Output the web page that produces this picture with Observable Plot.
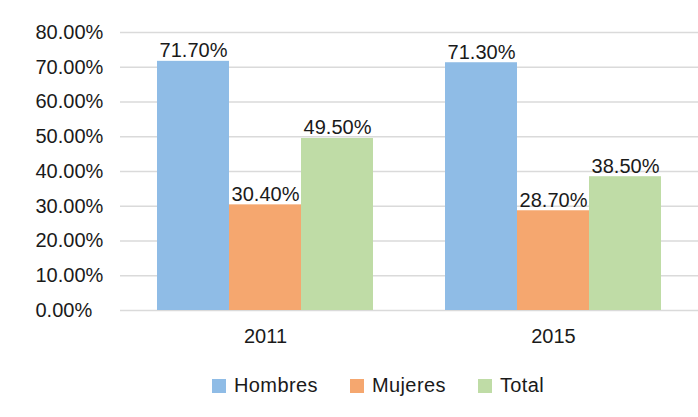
<!DOCTYPE html>
<html>
<head>
<meta charset="utf-8">
<script src="https://cdn.jsdelivr.net/npm/d3@7"></script>
<script src="https://cdn.jsdelivr.net/npm/@observablehq/plot@0.6"></script>
<style>
  body { margin: 0; background: #fff; font-family: "Liberation Sans", Arial, sans-serif; }
  div.lg-swatches { font-family: "Liberation Sans", Arial, sans-serif; font-size: 20px; letter-spacing: 0.4px; color: #1a1a1a; margin: 9px 0 0 212px; }
  div.lg-swatches .lg-swatch { margin-right: 32px; }
  div.lg-swatches .lg-swatch svg { margin-right: 8px; }
</style>
</head>
<body>
<div id="chart"></div>
<script>
const years = ["2011", "2015"];
const series = ["Hombres", "Mujeres", "Total"];
const hombres = [71.7, 71.3];
const mujeres = [30.4, 28.7];
const total = [49.5, 38.5];
const colors = ["#8fbce6", "#f5a76f", "#bfdca6"];
const yTicks = [0, 10, 20, 30, 40, 50, 60, 70, 80];

const seriesValues = [hombres, mujeres, total];
const data = [];
years.forEach((yr, i) => {
  series.forEach((s, j) => {
    data.push({year: yr, serie: s, key: yr + "|" + s, value: seriesValues[j][i]});
  });
});

// band domain: each year's bars, with a one-band spacer between groups
const xDomain = [];
years.forEach((yr, i) => {
  if (i > 0) xDomain.push("gap|" + i);
  series.forEach(s => xDomain.push(yr + "|" + s));
});
const xTicks = years.map(yr => yr + "|" + series[1]);

const fmt = v => v.toFixed(2) + "%";

const chart = Plot.plot({
  width: 698,
  height: 360,
  marginTop: 32,
  marginBottom: 50,
  marginLeft: 120,
  marginRight: 0,
  style: {fontFamily: "'Liberation Sans', Arial, sans-serif", fontSize: "20px", color: "#1a1a1a", background: "#fff"},
  x: {domain: xDomain, paddingInner: 0, paddingOuter: 0.5, axis: null},
  y: {domain: [0, 80], axis: null},
  color: {domain: series, range: colors},
  marks: [
    Plot.gridY(yTicks, {stroke: "#dadada", strokeOpacity: 1, strokeWidth: 1.5}),
    Plot.axisY(yTicks, {tickSize: 0, tickPadding: 85, textAnchor: "start", tickFormat: fmt, label: null, fill: "#1a1a1a"}),
    Plot.axisX(xTicks, {tickSize: 0, tickPadding: 18, tickFormat: d => d.split("|")[0], label: null, fill: "#1a1a1a"}),
    Plot.barY(data, {x: "key", y: "value", fill: "serie"}),
    Plot.text(data, {x: "key", y: "value", text: d => fmt(d.value), lineAnchor: "bottom", dy: -4, fill: "#1a1a1a"})
  ]
});
document.getElementById("chart").appendChild(chart);

const legend = Plot.legend({
  color: {domain: series, range: colors},
  swatchSize: 14,
  className: "lg"
});
document.getElementById("chart").appendChild(legend);
</script>
</body>
</html>
